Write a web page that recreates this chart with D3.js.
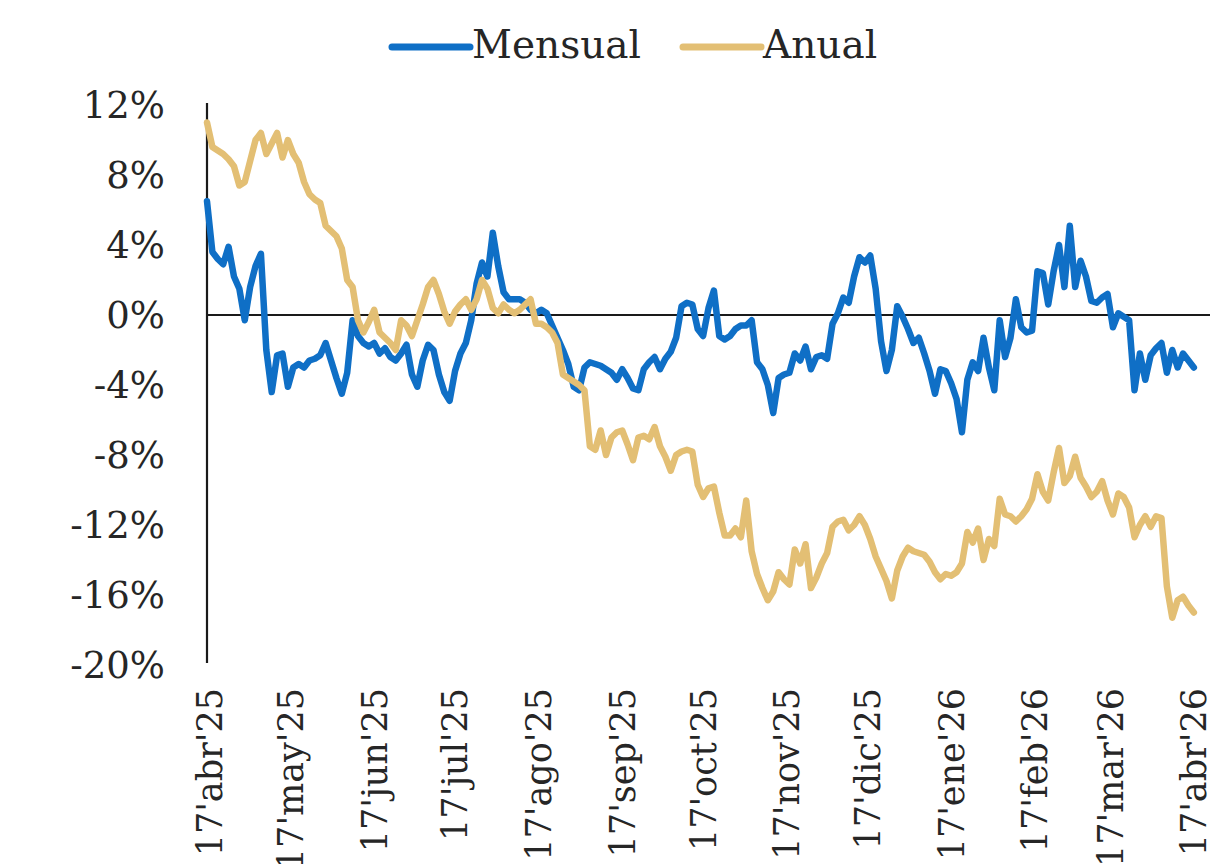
<!DOCTYPE html>
<html>
<head>
<meta charset="utf-8">
<script src="https://cdn.jsdelivr.net/npm/d3@7"></script>
<style>
  html, body { margin: 0; padding: 0; background: #fff; }
  svg { display: block; }
</style>
</head>
<body>
<svg id="chart" width="1217" height="864"></svg>
<script>
// ---- Data (values in %) ----
const startDate = "2025-04-17";   // first observation
const stepDays = 2;               // spacing between observations

const mensual = [
  6.5, 3.6, 3.2, 2.9, 3.9, 2.2, 1.5, -0.3, 1.6, 2.8,
  3.5, -2.0, -4.4, -2.3, -2.2, -4.1, -3.0, -2.8, -3.0, -2.6,
  -2.5, -2.3, -1.6, -2.6, -3.6, -4.5, -3.3, -0.3, -1.2, -1.6,
  -1.8, -1.6, -2.2, -1.9, -2.4, -2.6, -2.2, -1.7, -3.4, -4.1,
  -2.6, -1.7, -2.0, -3.4, -4.4, -4.9, -3.2, -2.2, -1.6, -0.3,
  1.8, 3.0, 2.2, 4.7, 2.8, 1.3, 0.9, 0.9, 0.9, 0.7,
  0.3, 0.1, 0.3, 0.1, -0.6, -1.3, -2.0, -2.8, -4.1, -4.3,
  -3.0, -2.7, -2.8, -2.9, -3.1, -3.3, -3.7, -3.1, -3.6, -4.2,
  -4.3, -3.1, -2.7, -2.4, -3.1, -2.5, -2.1, -1.3, 0.5, 0.7,
  0.6, -0.8, -1.2, 0.4, 1.4, -1.2, -1.4, -1.2, -0.8, -0.6,
  -0.6, -0.3, -2.7, -3.1, -4.0, -5.6, -3.6, -3.4, -3.3, -2.2,
  -2.6, -1.8, -3.1, -2.4, -2.3, -2.5, -0.5, 0.1, 1.0, 0.7,
  2.2, 3.3, 3.0, 3.4, 1.5, -1.5, -3.2, -2.0, 0.5, -0.1,
  -0.8, -1.6, -1.3, -2.2, -3.2, -4.5, -3.1, -3.2, -3.9, -4.8,
  -6.7, -3.7, -2.7, -3.2, -1.3, -3.0, -4.3, -0.3, -2.4, -1.3,
  0.9, -0.7, -1.0, -0.9, 2.5, 2.4, 0.6, 2.5, 4.0, 1.6,
  5.1, 1.6, 3.1, 2.2, 0.8, 0.7, 1.0, 1.2, -0.7, 0.1,
  -0.1, -0.3, -4.3, -2.2, -3.7, -2.3, -1.9, -1.6, -3.3, -2.0,
  -3.0, -2.2, -2.6, -3.0
];

const anual = [
  11.0, 9.6, 9.4, 9.2, 8.9, 8.5, 7.4, 7.6, 8.8, 10.0,
  10.4, 9.2, 9.8, 10.4, 9.0, 10.0, 9.2, 8.7, 7.6, 6.9,
  6.6, 6.4, 5.1, 4.8, 4.5, 3.8, 2.0, 1.6, -0.3, -1.0,
  -0.4, 0.3, -1.0, -1.3, -1.6, -2.0, -0.3, -0.6, -1.2, -0.3,
  0.6, 1.6, 2.0, 1.2, 0.2, -0.5, 0.2, 0.6, 0.9, 0.3,
  0.9, 2.0, 1.5, 0.4, 0.1, 0.6, 0.3, 0.1, 0.3, 0.6,
  0.9, -0.5, -0.5, -0.7, -1.0, -1.6, -3.4, -3.6, -3.8, -4.0,
  -4.3, -7.5, -7.7, -6.6, -8.0, -7.0, -6.7, -6.6, -7.4, -8.3,
  -7.0, -6.9, -7.1, -6.4, -7.5, -8.1, -8.9, -8.0, -7.8, -7.7,
  -7.8, -9.7, -10.4, -9.9, -9.8, -11.3, -12.6, -12.6, -12.2, -12.7,
  -10.6, -13.5, -14.8, -15.6, -16.3, -15.8, -14.7, -15.1, -15.4, -13.4,
  -14.2, -13.1, -15.6, -15.0, -14.2, -13.6, -12.1, -11.8, -11.7, -12.3,
  -12.0, -11.5, -12.0, -12.8, -13.8, -14.5, -15.2, -16.2, -14.6, -13.8,
  -13.3, -13.5, -13.6, -13.7, -14.1, -14.7, -15.1, -14.8, -14.9, -14.7,
  -14.2, -12.4, -13.0, -12.2, -14.0, -12.8, -13.2, -10.5, -11.4, -11.5,
  -11.8, -11.5, -11.1, -10.5, -9.1, -10.1, -10.6, -9.0, -7.6, -9.6,
  -9.2, -8.1, -9.3, -9.8, -10.4, -10.1, -9.5, -10.6, -11.4, -10.2,
  -10.4, -11.0, -12.7, -12.0, -11.5, -12.1, -11.5, -11.6, -15.5, -17.3,
  -16.3, -16.1, -16.6, -17.0
];

const tickDates = ["2025-04-17","2025-05-17","2025-06-17","2025-07-17","2025-08-17","2025-09-17",
  "2025-10-17","2025-11-17","2025-12-17","2026-01-17","2026-02-17","2026-03-17","2026-04-17"];
const tickLabels = ["17'abr'25","17'may'25","17'jun'25","17'jul'25","17'ago'25","17'sep'25",
  "17'oct'25","17'nov'25","17'dic'25","17'ene'26","17'feb'26","17'mar'26","17'abr'26"];
const yTicks = [12, 8, 4, 0, -4, -8, -12, -16, -20];

const seriesNames = ["Mensual", "Anual"];
const seriesColors = ["#0F6FC6", "#E3BF74"];

// ---- Chart ----
const parse = d3.timeParse("%Y-%m-%d");
const t0 = parse(startDate);
const dates = mensual.map((_, i) => d3.timeDay.offset(t0, i * stepDays));

const svg = d3.select("#chart");
const FONT = "'DejaVu Serif', 'Liberation Serif', serif";
const TEXT = "#262626";

const x = d3.scaleTime()
  .domain([parse("2025-04-17"), parse("2026-04-24")])
  .range([207, 1210]);
const y = d3.scaleLinear().domain([-20, 12]).range([665, 105]);

// Y labels
const yAxis = d3.axisLeft(y).tickValues(yTicks).tickSize(0).tickPadding(0)
  .tickFormat(d => d + "%");
const gy = svg.append("g").attr("transform", "translate(165,0)").call(yAxis);
gy.select(".domain").remove();
gy.selectAll("text").attr("font-family", FONT).attr("font-size", 37).attr("fill", TEXT)
  .attr("dy", "0.35em");

// Y axis line
svg.append("line")
  .attr("x1", x.range()[0]).attr("x2", x.range()[0])
  .attr("y1", y(12) - 2).attr("y2", y(-20) - 2)
  .attr("stroke", "#1a1a1a").attr("stroke-width", 2.2);

// Zero line (horizontal axis)
svg.append("line")
  .attr("x1", x.range()[0]).attr("x2", x.range()[1])
  .attr("y1", y(0)).attr("y2", y(0))
  .attr("stroke", "#1a1a1a").attr("stroke-width", 2.2);

// X labels (rotated)
const xAxis = d3.axisBottom(x).tickValues(tickDates.map(parse)).tickSize(0).tickPadding(0)
  .tickFormat((d, i) => tickLabels[i]);
const gx = svg.append("g").attr("transform", "translate(2,688)").call(xAxis);
gx.select(".domain").remove();
gx.selectAll("text")
  .attr("font-family", FONT).attr("font-size", 35).attr("fill", TEXT)
  .attr("transform", "rotate(-90)")
  .attr("text-anchor", "end")
  .attr("x", 0).attr("y", 0).attr("dy", "0.36em");

// Lines
const line = d3.line().x((d, i) => x(dates[i])).y(d => y(d));
[mensual, anual].forEach((s, k) => {
  svg.append("path").datum(s)
    .attr("fill", "none")
    .attr("stroke", seriesColors[k])
    .attr("stroke-width", 6.5)
    .attr("stroke-linejoin", "round")
    .attr("stroke-linecap", "round")
    .attr("d", line);
});

// Legend
const legendPos = [{lx: 392, tx: 472}, {lx: 683, tx: 763}];
seriesNames.forEach((n, k) => {
  svg.append("line")
    .attr("x1", legendPos[k].lx).attr("x2", legendPos[k].lx + 78)
    .attr("y1", 47).attr("y2", 47)
    .attr("stroke", seriesColors[k]).attr("stroke-width", 7)
    .attr("stroke-linecap", "round");
  svg.append("text")
    .attr("x", legendPos[k].tx).attr("y", 58)
    .attr("font-family", FONT).attr("font-size", 39).attr("fill", TEXT)
    .text(n);
});
</script>
</body>
</html>
